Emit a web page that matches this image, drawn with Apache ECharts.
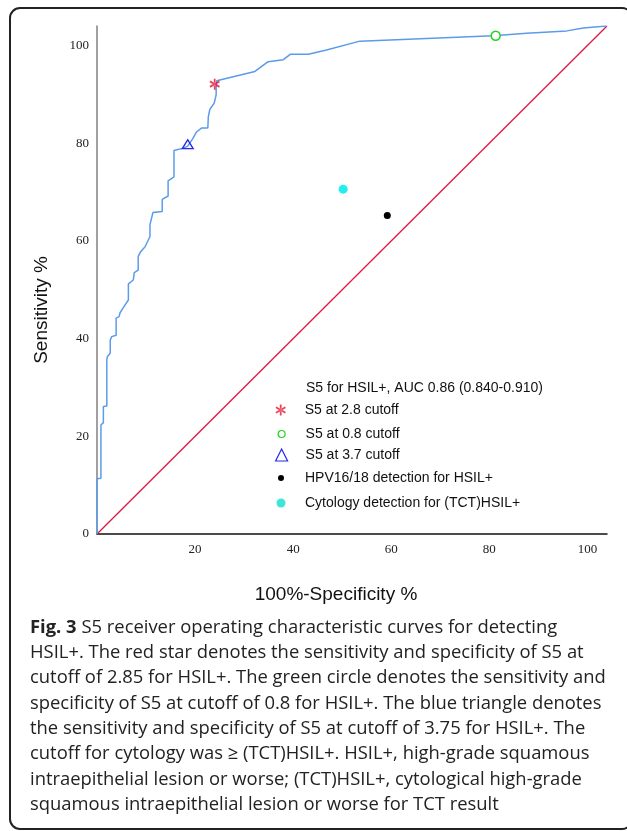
<!DOCTYPE html>
<html>
<head>
<meta charset="utf-8">
<script src="https://cdn.jsdelivr.net/npm/echarts@6/dist/echarts.min.js"></script>
<style>
  html, body { margin: 0; padding: 0; background: #fff; }
  #chart { width: 627px; height: 831px; }
</style>
</head>
<body>
<div id="chart"></div>
<script>
// ROC curve of S5 (x = 100%-specificity, y = sensitivity)
const rocX = [0, 0, 0.8, 0.8, 1.3, 1.3, 2.0, 2.0, 2.1, 2.7, 2.7, 3.0, 3.9, 3.9, 4.5, 4.7, 5.4, 6.4, 6.4, 7.4,
    7.6, 8.4, 8.4, 8.9, 9.8, 10.8, 10.8, 11.4, 13.3, 13.3, 14.5, 14.5, 15.7, 15.7, 17.6, 18.5, 19.5, 20.3, 21.3, 22.6,
    22.7, 23.0, 23.9, 24.3, 24.3, 24.4, 32.2, 34.9, 38.0, 39.4, 43.1, 46.8, 53.6, 80.8, 87.6, 95.8, 99.2, 103.9];
const rocY = [0, 11.3, 11.4, 22.3, 22.8, 26.1, 26.2, 35.6, 36.3, 37.0, 39.7, 40.4, 40.7, 44.2, 44.5, 45.3, 46.4, 47.9, 51.2, 52.0,
    53.5, 54.0, 56.8, 57.8, 58.8, 60.9, 63.3, 65.8, 66.0, 68.5, 69.2, 72.3, 73.1, 78.5, 79.0, 79.4, 80.9, 82.3, 83.1, 83.1,
    85.4, 86.9, 88.2, 89.9, 91.6, 92.8, 94.7, 96.7, 97.1, 98.2, 98.2, 99.1, 100.9, 102.0, 102.5, 103.0, 103.6, 104.0];

// reference diagonal
const diagX = [0, 104];
const diagY = [0, 104];

// single points
const cut28 = [24.0, 92.1];
const cut08 = [81.3, 102.0];
const cut37 = [18.5, 79.8];
const hpvPoint = [59.2, 65.2];
const tctPoint = [50.2, 70.6];

const tickLabels = [0, 20, 40, 60, 80, 100];

const rocName = 'S5 for HSIL+, AUC 0.86 (0.840-0.910)';
const starName = 'S5 at 2.8 cutoff';
const circleName = 'S5 at 0.8 cutoff';
const triName = 'S5 at 3.7 cutoff';
const hpvName = 'HPV16/18 detection for HSIL+';
const tctName = 'Cytology detection for (TCT)HSIL+';

const captionLines = [
    '{b|Fig. 3} S5 receiver operating characteristic curves for detecting',
    'HSIL+. The red star denotes the sensitivity and specificity of S5 at',
    'cutoff of 2.85 for HSIL+. The green circle denotes the sensitivity and',
    'specificity of S5 at cutoff of 0.8 for HSIL+. The blue triangle denotes',
    'the sensitivity and specificity of S5 at cutoff of 3.75 for HSIL+. The',
    'cutoff for cytology was \u2265 (TCT)HSIL+. HSIL+, high-grade squamous',
    'intraepithelial lesion or worse; (TCT)HSIL+, cytological high-grade',
    'squamous intraepithelial lesion or worse for TCT result'
];

// six-armed asterisk
const starPath = 'path://M8.4 0L11.6 0L11.6 20L8.4 20Z M0.54 6.39L17.86 16.39L19.46 13.61L2.14 3.61Z M2.14 16.39L19.46 6.39L17.86 3.61L0.54 13.61Z';

const zip = (xs, ys) => xs.map((x, i) => [x, ys[i]]);

const tickFormatter = (v) => tickLabels.indexOf(v) >= 0 ? String(v) : '';

// one legend block per entry so each icon can have its own size
function makeLegend(name, top, size, itemStyle) {
    let w = size;
    return {
        data: [name],
        orient: 'vertical',
        left: 281 - w / 2,
        top: top,
        padding: 0,
        itemWidth: w,
        itemHeight: size,
        selectedMode: false,
        itemStyle: itemStyle,
        textStyle: {
            fontFamily: 'Liberation Sans',
            fontSize: 14,
            color: '#111',
            padding: [0, 0, 0, 19 - w / 2]
        }
    };
}

let dom = document.getElementById('chart');
let myChart = echarts.init(dom, null, { renderer: 'canvas' });

let option = {
    backgroundColor: '#fff',
    animation: false,
    grid: { left: 97, top: 26, width: 510, height: 508 },
    xAxis: {
        type: 'value',
        min: 0,
        max: 104,
        interval: 20,
        name: '100%-Specificity %',
        nameLocation: 'middle',
        nameGap: 51,
        nameTextStyle: {
            fontFamily: 'Liberation Sans',
            fontSize: 19,
            color: '#111',
            padding: [0, 32, 0, 0]
        },
        axisLine: { lineStyle: { color: '#111', width: 1.5 } },
        axisTick: { show: false },
        splitLine: { show: false },
        axisLabel: {
            margin: 9,
            showMinLabel: false,
            fontFamily: 'Liberation Serif',
            fontSize: 13,
            color: '#222',
            formatter: tickFormatter
        }
    },
    yAxis: {
        type: 'value',
        min: 0,
        max: 104,
        interval: 20,
        name: 'Sensitivity %',
        nameLocation: 'middle',
        nameGap: 46,
        nameTextStyle: {
            fontFamily: 'Liberation Sans',
            fontSize: 19,
            color: '#111',
            padding: [0, 60, 0, 0]
        },
        axisLine: { lineStyle: { color: '#808080', width: 1.5 } },
        axisTick: { show: false },
        splitLine: { show: false },
        axisLabel: {
            margin: 8,
            fontFamily: 'Liberation Serif',
            fontSize: 13,
            color: '#222',
            formatter: tickFormatter
        }
    },
    legend: [
        {
            data: [rocName],
            left: 300,
            top: 381,
            padding: 0,
            itemWidth: 0,
            itemHeight: 1,
            selectedMode: false,
            itemStyle: { opacity: 0 },
            lineStyle: { opacity: 0 },
            textStyle: { fontFamily: 'Liberation Sans', fontSize: 14, color: '#111' }
        },
        makeLegend(starName, 403, 11, { color: '#e5142f' }),
        makeLegend(circleName, 427, 7, { color: '#fff', borderColor: '#1fd41f', borderWidth: 1.2 }),
        makeLegend(triName, 448, 12, { color: '#fff', borderColor: '#2626ee', borderWidth: 1.2 }),
        makeLegend(hpvName, 471, 6, { color: '#000' }),
        makeLegend(tctName, 496, 9, { color: '#3ee6d8' })
    ],
    series: [
        {
            name: rocName,
            type: 'line',
            data: zip(rocX, rocY),
            symbol: 'none',
            lineStyle: { color: '#5c9bea', width: 1.5 },
            itemStyle: { color: '#5c9bea' },
            z: 2
        },
        {
            name: 'diagonal',
            type: 'line',
            data: zip(diagX, diagY),
            symbol: 'none',
            lineStyle: { color: '#dc1848', width: 1.3 },
            z: 1
        },
        {
            name: starName,
            type: 'scatter',
            data: [cut28],
            symbol: starPath,
            symbolSize: 11,
            symbolKeepAspect: true,
            itemStyle: { color: '#e5142f' },
            z: 4
        },
        {
            name: circleName,
            type: 'scatter',
            data: [cut08],
            symbol: 'circle',
            symbolSize: 9,
            itemStyle: { color: '#fff', borderColor: '#1fd41f', borderWidth: 1.5, opacity: 1 },
            z: 4
        },
        {
            name: triName,
            type: 'scatter',
            data: [cut37],
            symbol: 'triangle',
            symbolSize: [11, 9],
            itemStyle: { color: 'rgba(255,255,255,0)', borderColor: '#2626ee', borderWidth: 1.3, opacity: 1 },
            z: 4
        },
        {
            name: hpvName,
            type: 'scatter',
            data: [hpvPoint],
            symbol: 'circle',
            symbolSize: 7,
            itemStyle: { color: '#000', opacity: 1 },
            z: 4
        },
        {
            name: tctName,
            type: 'scatter',
            data: [tctPoint],
            symbol: 'circle',
            symbolSize: 9,
            itemStyle: { color: '#22eeee', opacity: 1 },
            z: 4
        }
    ],
    graphic: [
        {
            type: 'rect',
            shape: { x: 10, y: 8, width: 622, height: 821, r: 10 },
            style: { fill: 'none', stroke: '#222', lineWidth: 2 },
            silent: true,
            z: 0
        },
        {
            type: 'text',
            left: 30,
            top: 615,
            style: {
                text: captionLines.join('\n'),
                fontFamily: 'Open Sans',
                fontSize: 18.4,
                lineHeight: 25.3,
                fill: '#222',
                rich: {
                    b: { fontFamily: 'Open Sans', fontSize: 18.4, fontWeight: 'bold', lineHeight: 25.3, fill: '#222' }
                }
            },
            silent: true
        }
    ]
};

if (option && typeof option === 'object') {
    myChart.setOption(option);
}
window.addEventListener('resize', myChart.resize);
</script>
</body>
</html>
